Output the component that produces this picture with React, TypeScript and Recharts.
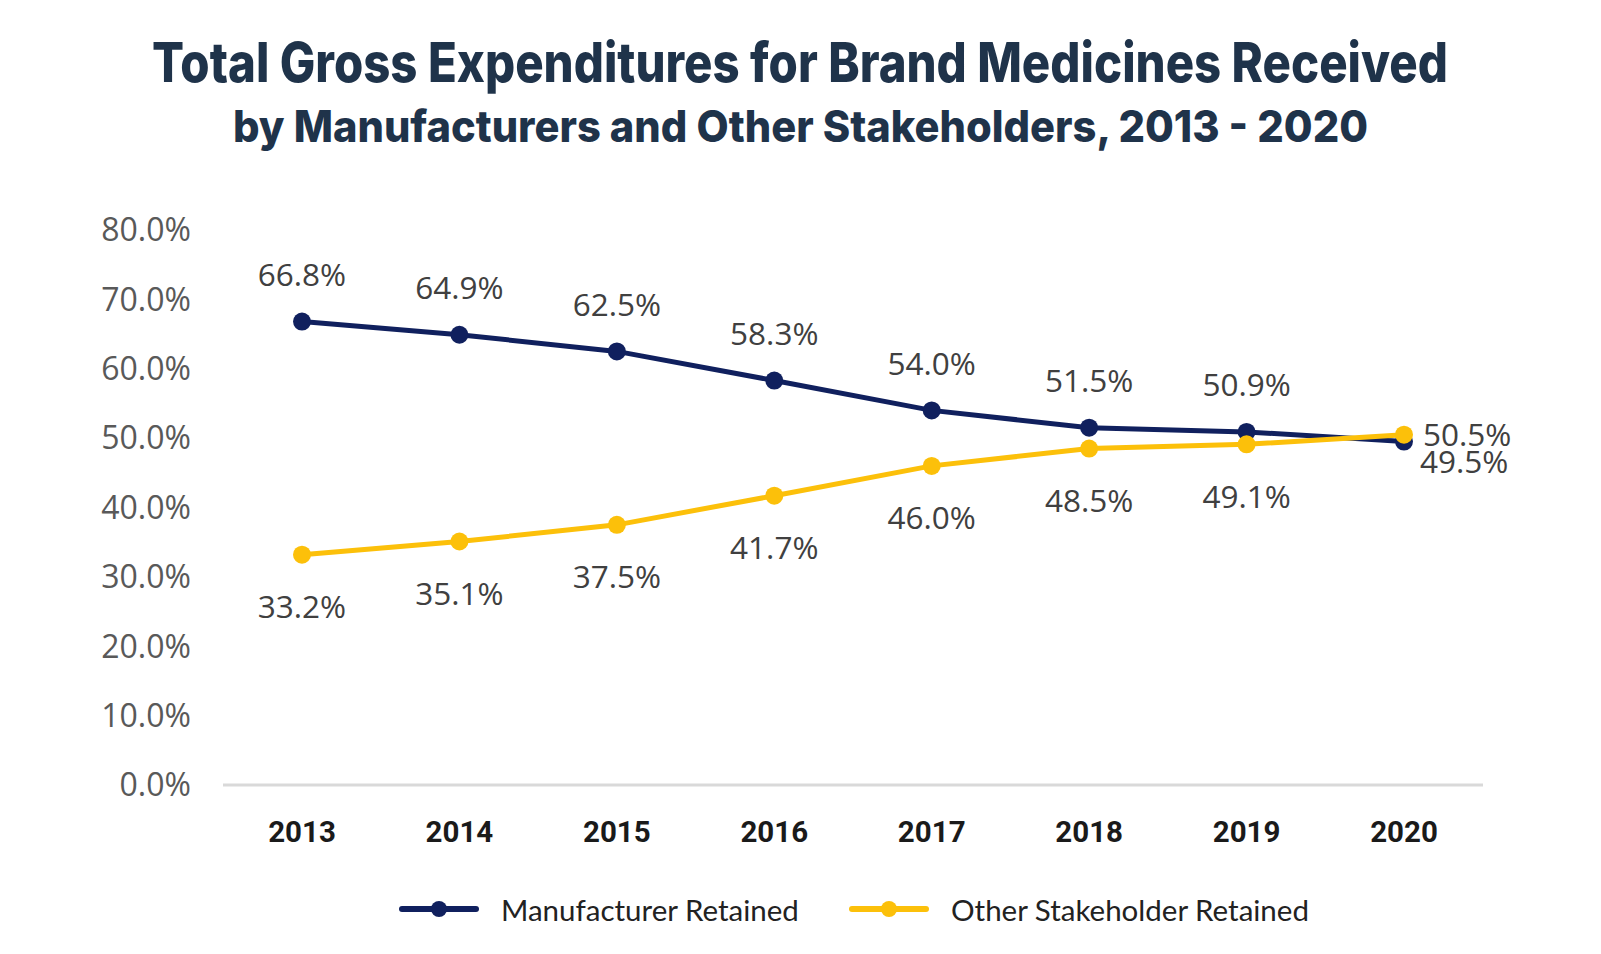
import React from 'react';
import { LineChart, Line, XAxis, YAxis, LabelList } from 'recharts';

const years = ['2013', '2014', '2015', '2016', '2017', '2018', '2019', '2020'];
const manufacturerRetained = [66.8, 64.9, 62.5, 58.3, 54.0, 51.5, 50.9, 49.5];
const otherStakeholderRetained = [33.2, 35.1, 37.5, 41.7, 46.0, 48.5, 49.1, 50.5];
const yTicks = [0, 10, 20, 30, 40, 50, 60, 70, 80];

const NAVY = '#10205e';
const GOLD = '#fcc00a';
const TITLE = '#1f334a';
const LABEL_FONT = "'Open Sans', 'Noto Sans', sans-serif";

const chartData = years.map((year, i) => ({
  year,
  manufacturer: manufacturerRetained[i],
  other: otherStakeholderRetained[i],
}));

const fmt = (v: number) => `${v.toFixed(1)}%`;

// labels above the navy line, below the gold one; last point goes to the right
const makeLabel = (above: boolean) => (props: any) => {
  const { x, y, value, index } = props;
  const last = index === years.length - 1;
  let tx = x;
  let ty = above ? y - 48 : y + 51;
  let anchor: 'middle' | 'start' = 'middle';
  if (last) {
    anchor = 'start';
    tx = above ? x + 16 : x + 19;
    ty = above ? y + 19 : y - 1;
  }
  return (
    <text
      x={tx}
      y={ty}
      textAnchor={anchor}
      dominantBaseline="central"
      fill="#404040"
      fontSize={31.5}
      fontFamily={LABEL_FONT}
    >
      {fmt(value)}
    </text>
  );
};

const legendItems = [
  { name: 'Manufacturer Retained', color: NAVY, left: 399 },
  { name: 'Other Stakeholder Retained', color: GOLD, left: 849 },
];

export default function App() {
  return (
    <div
      style={{
        position: 'absolute',
        left: 0,
        top: 0,
        width: 1601,
        height: 954,
        background: '#fff',
        overflow: 'hidden',
      }}
    >
      <svg width={1601} height={170} style={{ position: 'absolute', left: 0, top: 0 }}>
        <text
          x={152}
          y={82}
          textLength={1296}
          lengthAdjust="spacingAndGlyphs"
          fontSize={55}
          fontWeight={800}
          fontFamily="Inter, 'Noto Sans', sans-serif"
          fill={TITLE}
        >
          Total Gross Expenditures for Brand Medicines Received
        </text>
        <text
          x={233}
          y={142}
          textLength={1135}
          lengthAdjust="spacingAndGlyphs"
          fontSize={44}
          fontWeight={800}
          fontFamily="Inter, 'Noto Sans', sans-serif"
          fill={TITLE}
        >
          by Manufacturers and Other Stakeholders, 2013 - 2020
        </text>
      </svg>

      <div style={{ position: 'absolute', left: 0, top: 0 }}>
        <LineChart
          width={1601}
          height={954}
          data={chartData}
          margin={{ top: 230, right: 118, bottom: 109, left: 123 }}
        >
          <XAxis
            dataKey="year"
            height={60}
            padding={{ left: 79, right: 79 }}
            axisLine={{ stroke: '#d9d9d9', strokeWidth: 3 }}
            tickLine={false}
            tickSize={0}
            tickMargin={36}
            tick={{
              fill: '#1a1a1a',
              fontSize: 29.5,
              fontWeight: 700,
              fontFamily: "Roboto, 'Liberation Sans', sans-serif",
            }}
          />
          <YAxis
            width={100}
            domain={[0, 80]}
            ticks={yTicks}
            tickFormatter={fmt}
            axisLine={false}
            tickLine={false}
            tickSize={0}
            tickMargin={32}
            interval={0}
            tick={{ fill: '#595959', fontSize: 32, fontFamily: LABEL_FONT }}
          />
          <Line
            dataKey="manufacturer"
            stroke={NAVY}
            strokeWidth={5}
            dot={{ r: 9, fill: NAVY, stroke: NAVY, strokeWidth: 0 }}
            activeDot={false}
            isAnimationActive={false}
          >
            <LabelList dataKey="manufacturer" content={makeLabel(true)} />
          </Line>
          <Line
            dataKey="other"
            stroke={GOLD}
            strokeWidth={5}
            dot={{ r: 9, fill: GOLD, stroke: GOLD, strokeWidth: 0 }}
            activeDot={false}
            isAnimationActive={false}
          >
            <LabelList dataKey="other" content={makeLabel(false)} />
          </Line>
        </LineChart>
      </div>

      {/* Legend */}
      {legendItems.map((item) => (
        <div
          key={item.name}
          style={{
            position: 'absolute',
            left: item.left,
            top: 889,
            height: 40,
            display: 'flex',
            alignItems: 'center',
            gap: 22,
          }}
        >
          <svg width={80} height={20}>
            <line x1={3} y1={10} x2={77} y2={10} stroke={item.color} strokeWidth={6} strokeLinecap="round" />
            <circle cx={40} cy={10} r={8} fill={item.color} />
          </svg>
          <span
            style={{
              fontFamily: "Lato, 'Open Sans', sans-serif",
              fontSize: 29.5,
              color: '#222',
              whiteSpace: 'nowrap',
            }}
          >
            {item.name}
          </span>
        </div>
      ))}
    </div>
  );
}
